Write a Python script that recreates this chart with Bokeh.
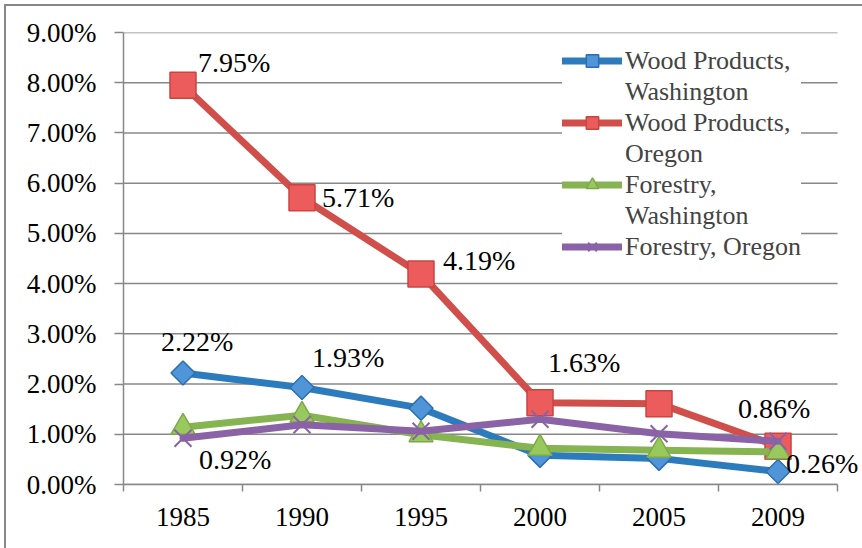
import math
from bokeh.plotting import figure
from bokeh.models import (FixedTicker, Legend, LegendItem, ColumnDataSource, LabelSet,
                          Range1d, PrintfTickFormatter)
from bokeh.embed import file_html
from bokeh.resources import INLINE
from bokeh.core.properties import value

years = ["1985", "1990", "1995", "2000", "2005", "2009"]
wood_wa = [2.22, 1.93, 1.52, 0.58, 0.52, 0.26]
wood_or = [7.95, 5.71, 4.19, 1.63, 1.61, 0.76]
forest_wa = [1.14, 1.38, 0.99, 0.72, 0.68, 0.65]
forest_or = [0.92, 1.19, 1.06, 1.30, 1.01, 0.86]
y_ticks = [0, 1, 2, 3, 4, 5, 6, 7, 8, 9]

# data labels: (series, year index)
label_series = ["or", "or", "or", "or", "wa", "wa", "wa", "for", "for"]
label_idx = [0, 1, 2, 3, 0, 1, 5, 0, 5]

FONT = "'Liberation Serif', 'Times New Roman', Times, 'DejaVu Serif', serif"
GRID = "#888888"
xs = list(range(len(years)))
x_lo, x_hi = -0.5, len(years) - 0.5

p = figure(width=862, height=548, output_backend="svg", toolbar_location=None,
           x_range=Range1d(x_lo, x_hi + 0.193), y_range=Range1d(0, 9),
           min_border_left=123, min_border_top=32, min_border_right=2, min_border_bottom=64)
p.outline_line_color = None
p.border_fill_color = None
p.background_fill_color = None
p.styles = {
    "background": ("linear-gradient(#888888,#888888) 4px 4px / 2px 100% no-repeat, "
                   "linear-gradient(#888888,#888888) 4px 4px / 100% 2px no-repeat, white"),
}
p.xgrid.grid_line_color = None
p.ygrid.grid_line_color = None

# horizontal gridlines limited to the category span
p.segment(x0=[x_lo] * len(y_ticks), x1=[x_hi] * len(y_ticks), y0=y_ticks, y1=y_ticks,
          line_color=GRID, line_width=1.5, level="underlay")

p.yaxis.ticker = FixedTicker(ticks=y_ticks)
p.yaxis.formatter = PrintfTickFormatter(format="%.2f%%")
p.yaxis.major_label_text_font = FONT
p.yaxis.major_label_text_font_size = "27px"
p.yaxis.major_label_text_color = "black"
p.yaxis.axis_line_color = GRID
p.yaxis.axis_line_width = 1.5
p.yaxis.major_tick_line_color = GRID
p.yaxis.major_tick_line_width = 1.5
p.yaxis.major_tick_out = 9
p.yaxis.major_tick_in = 0
p.yaxis.minor_tick_line_color = None
p.yaxis.major_label_standoff = 18

p.xaxis.bounds = (x_lo, x_hi)
p.xaxis.ticker = FixedTicker(ticks=xs, minor_ticks=[i - 0.5 for i in range(len(years) + 1)])
p.xaxis.major_label_overrides = {i: y for i, y in enumerate(years)}
p.xaxis.major_label_text_font = FONT
p.xaxis.major_label_text_font_size = "27px"
p.xaxis.major_label_text_color = "black"
p.xaxis.axis_line_color = GRID
p.xaxis.axis_line_width = 1.5
p.xaxis.major_tick_line_color = None
p.xaxis.major_tick_out = 0
p.xaxis.minor_tick_line_color = GRID
p.xaxis.minor_tick_line_width = 1.5
p.xaxis.minor_tick_out = 7
p.xaxis.minor_tick_in = 0
p.xaxis.major_label_standoff = 16

styles = [
    (["Wood Products,", "Washington"], wood_wa, "#2c7cbd", "square", math.pi / 4, "#4f95d8", "#2c6fb0", 17),
    (["Wood Products,", "Oregon"], wood_or, "#d14f4b", "square", 0, "#ec5c5c", "#c94542", 26),
    (["Forestry,", "Washington"], forest_wa, "#86b451", "triangle", 0, "#98c95c", "#7ea84a", 24),
    (["Forestry, Oregon"], forest_or, "#8a62a6", "x", 0, "#8a62a6", "#8a62a6", 24),
]
blank = p.line([], [], line_alpha=0)
items = []
for names, ys, col, mk, ang, fill, lc, sz in styles:
    src = ColumnDataSource(dict(x=xs, y=ys))
    l = p.line("x", "y", source=src, line_color=col, line_width=7, line_join="round", line_cap="round")
    s = p.scatter("x", "y", source=src, marker=mk, size=sz, angle=ang, fill_color=fill,
                  line_color=lc, line_width=1.5 if mk != "x" else 2)
    items.append(LegendItem(label=names[0], renderers=[l, s]))
    for extra in names[1:]:
        items.append(LegendItem(label=extra, renderers=[blank]))

series_map = {"wa": wood_wa, "or": wood_or, "for": forest_or}
lab_x_off = [15, 20, 22, 8, -22, 10, 8, 16, -40]
lab_y_off = [-23, 0, -14, -40, -32, -30, -8, 21, -33]
lab_x = [xs[i] for i in label_idx]
lab_y = [series_map[s][i] for s, i in zip(label_series, label_idx)]
lab_t = ["%.2f%%" % v for v in lab_y]
lsrc = ColumnDataSource(dict(x=lab_x, y=lab_y, t=lab_t, xo=lab_x_off, yo=[-v for v in lab_y_off]))
p.add_layout(LabelSet(x="x", y="y", text="t", source=lsrc, x_offset="xo", y_offset="yo",
                      text_font=value(FONT), text_font_size="28px", text_color="black",
                      text_baseline="middle", text_align="left"))

legend = Legend(items=items, location=(562 - 123, 484 - 262), glyph_width=60, glyph_height=31,
                label_height=31, label_text_font=FONT, label_text_font_size="26px", label_standoff=3,
                border_line_color=None, background_fill_color="white", background_fill_alpha=1,
                spacing=0, padding=5, margin=0, label_text_baseline="middle")
p.add_layout(legend)

open("out.html", "w").write(file_html(p, INLINE))
